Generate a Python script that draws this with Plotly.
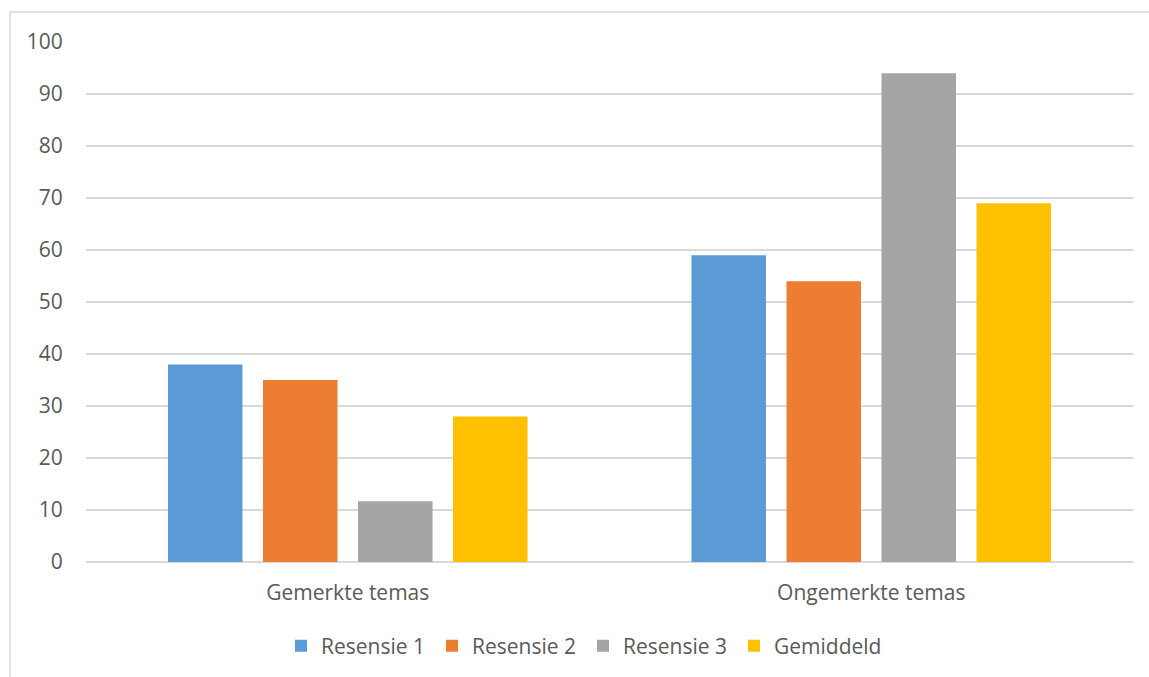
import plotly.graph_objects as go

# Categories and series
categories = ["Gemerkte temas", "Ongemerkte temas"]
series_names = ["Resensie 1", "Resensie 2", "Resensie 3", "Gemiddeld"]
resensie_1 = [38, 59]
resensie_2 = [35, 54]
resensie_3 = [11.7, 94]
gemiddeld = [28, 69]
y_ticks = [0, 10, 20, 30, 40, 50, 60, 70, 80, 90, 100]

colors = ["#5B9BD5", "#ED7D31", "#A5A5A5", "#FFC000"]
values = [resensie_1, resensie_2, resensie_3, gemiddeld]

FONT = "Open Sans"
FS = 21
TEXT = "#595959"
GRID = "#D9D9D9"

fig = go.Figure()
for name, vals, col in zip(series_names, values, colors):
    fig.add_trace(go.Bar(
        x=categories, y=vals, name=name,
        marker=dict(color=col, line=dict(width=0)),
    ))

W, H = 1149, 677
L, R, T, B = 86, 16, 42, 115
pw, ph = W - L - R, H - T - B

# chart-area frame (left and top edges visible)
fig.add_shape(
    type="rect", xref="paper", yref="paper",
    x0=(10 - L) / pw, x1=1.2, y0=-0.6, y1=1 + (T - 12) / ph,
    line=dict(color=GRID, width=1.5), fillcolor="rgba(0,0,0,0)", layer="below",
)

fig.update_layout(
    width=W, height=H,
    margin=dict(l=L, r=R, t=T, b=B, autoexpand=False),
    paper_bgcolor="white", plot_bgcolor="white",
    barmode="group", bargap=0.274, bargroupgap=0.216,
    font=dict(family=FONT, size=FS, color=TEXT),
    showlegend=True,
    legend=dict(
        orientation="h", x=(281 - L) / pw, xanchor="left",
        y=(562 - 646) / ph, yanchor="middle",
        font=dict(family=FONT, size=FS, color=TEXT),
        itemwidth=30, entrywidth=106, traceorder="normal",
    ),
    xaxis=dict(
        showgrid=False, showline=False, zeroline=False,
        ticks="outside", ticklen=12, tickcolor="rgba(0,0,0,0)",
        tickfont=dict(family=FONT, size=FS, color=TEXT),
    ),
    yaxis=dict(
        range=[0, 100], tickvals=y_ticks,
        showgrid=True, gridcolor=GRID, gridwidth=1.5,
        zeroline=True, zerolinecolor=GRID, zerolinewidth=1.5,
        showline=False,
        ticks="outside", ticklen=18, tickcolor="rgba(0,0,0,0)",
        tickfont=dict(family=FONT, size=FS, color=TEXT),
    ),
)

fig.write_html("out.html")
